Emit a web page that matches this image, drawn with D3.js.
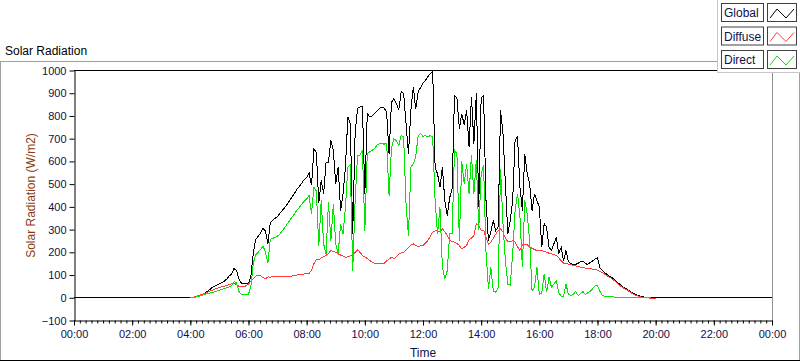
<!DOCTYPE html>
<html>
<head>
<meta charset="utf-8">
<script src="https://cdn.jsdelivr.net/npm/d3@7/dist/d3.min.js"></script>
<style>
  body { margin: 0; background: #fff; }
  svg { display: block; font-family: "Liberation Sans", Arial, sans-serif; }
</style>
</head>
<body>
<div id="chart"></div>
<script>
// Sample times: 00:00, then every 5 minutes from 04:00 to 20:00, then 24:00
const SAMPLE_MINUTES = [0].concat(d3.range(240, 1201, 5), [1440]);

// W/m2 (first = 00:00, last = 24:00, middle = 04:00..20:00 by 5 min)
const globalRad = [0,
  0, 2, 5, 8, 12, 16, 20, 28, 36, 45, 51, 56,
  62, 67, 73, 82, 95, 105, 128, 122, 85, 65, 62, 62,
  63, 95, 200, 258, 270, 285, 305, 295, 235, 330, 342, 350,
  358, 372, 385, 397, 412, 428, 445, 460, 477, 490, 505, 520,
  530, 550, 495, 655, 640, 415, 517, 458, 597, 597, 693, 649,
  502, 575, 384, 458, 575, 796, 767, 281, 722, 833, 840, 840,
  458, 810, 796, 800, 810, 822, 833, 838, 835, 815, 634, 860,
  876, 855, 825, 906, 900, 766, 634, 825, 928, 830, 906, 925,
  945, 957, 972, 987, 995, 575, 545, 486, 575, 428, 362, 440,
  480, 891, 880, 745, 810, 760, 825, 664, 884, 678, 899, 399,
  880, 891, 428, 252, 290, 340, 296, 311, 825, 722, 502, 281,
  340, 428, 693, 708, 487, 384, 634, 546, 502, 384, 458, 428,
  399, 222, 325, 311, 222, 208, 237, 266, 193, 222, 160, 208,
  160, 150, 147, 147, 152, 158, 162, 150, 147, 155, 162, 170,
  177, 132, 120, 110, 102, 95, 88, 80, 70, 61, 52, 45,
  39, 32, 24, 18, 13, 9, 6, 4, 2, 1, 0, 0,
  0,
  0];

const diffuseRad = [null,
  0, 2, 5, 8, 12, 15, 19, 24, 29, 33, 37, 42,
  45, 48, 51, 55, 58, 62, 65, 58, 51, 51, 51, 52,
  60, 73, 85, 95, 98, 97, 88, 84, 92, 90, 93, 94,
  93, 92, 92, 92, 93, 94, 96, 98, 100, 101, 103, 105,
  106, 107, 120, 150, 168, 166, 175, 180, 186, 195, 208, 203,
  200, 193, 188, 183, 178, 180, 184, 190, 200, 211, 200, 186,
  180, 172, 164, 158, 152, 149, 149, 150, 152, 162, 170, 178,
  172, 180, 192, 197, 200, 210, 222, 232, 237, 230, 226, 228,
  230, 240, 252, 270, 289, 294, 296, 289, 303, 290, 275, 252,
  248, 244, 238, 230, 215, 222, 230, 255, 262, 274, 325, 318,
  296, 298, 265, 236, 245, 262, 280, 295, 303, 289, 262, 248,
  246, 252, 245, 225, 208, 232, 236, 234, 222, 218, 212, 208,
  208, 207, 204, 200, 196, 193, 190, 186, 175, 164, 152, 150,
  148, 145, 143, 140, 138, 135, 133, 131, 130, 128, 126, 124,
  122, 115, 110, 104, 97, 90, 83, 75, 65, 56, 48, 41,
  35, 28, 21, 15, 10, 6, 3, 1, 0, -1, -2, -3,
  -4,
  null];

const directRad = [null,
  0, 1, 3, 5, 8, 12, 15, 18, 21, 24, 26, 30,
  33, 36, 40, 44, 48, 52, 70, 68, 28, 15, 15, 15,
  16, 51, 154, 190, 200, 213, 228, 200, 154, 257, 262, 265,
  272, 281, 295, 310, 325, 340, 355, 370, 385, 398, 412, 425,
  435, 450, 369, 486, 470, 226, 430, 237, 193, 420, 251, 413,
  237, 193, 325, 281, 398, 575, 583, 119, 428, 627, 627, 649,
  296, 634, 642, 649, 657, 672, 678, 678, 676, 680, 450, 660,
  700, 690, 670, 714, 707, 413, 272, 575, 590, 620, 714, 722,
  710, 714, 707, 714, 707, 428, 281, 398, 134, 82, 119, 281,
  281, 649, 634, 252, 600, 502, 590, 458, 627, 458, 605, 300,
  546, 583, 200, 40, 133, 30, 25, 45, 566, 325, 163, 60,
  56, 193, 384, 458, 355, 134, 428, 369, 252, 30, 46, 134,
  15, 20, 105, 25, 90, 46, 60, 75, 22, 7, 7, 60,
  15, 10, 15, 28, 10, 18, 28, 15, 22, 29, 40, 52,
  52, 28, 10, 7, 5, 4, 4, 3, 3, 2, 2, 2,
  2, 1, 1, 1, 0, 0, 0, 0, 0, 0, 0, null,
  null,
  null];

const SERIES = [
  { name: "Global", values: globalRad, color: "#000000" },
  { name: "Diffuse", values: diffuseRad, color: "#ff3c3c" },
  { name: "Direct", values: directRad, color: "#00e600" },
];

const Y_TICKS = d3.range(-100, 1001, 100);
const X_MAJOR = d3.range(0, 1441, 120);
const X_MINOR = d3.range(0, 1441, 12);

const WIDTH = 800;
const HEIGHT = 361;
const PLOT = { left: 74, right: 772, top: 70.5, bottom: 320.5 };
const TEXT_COLOR = "#10104a";

const svg = d3.select("#chart").append("svg")
  .attr("width", WIDTH)
  .attr("height", HEIGHT);

// outer frame of the graph panel
svg.append("rect")
  .attr("x", 0.5).attr("y", 61.5)
  .attr("width", WIDTH - 1).attr("height", HEIGHT - 62)
  .attr("fill", "#fff")
  .attr("stroke", "#a0a0a0");
svg.append("line")
  .attr("x1", 0).attr("x2", WIDTH)
  .attr("y1", HEIGHT - 0.5).attr("y2", HEIGHT - 0.5)
  .attr("stroke", "#000");

svg.append("text")
  .attr("x", 5).attr("y", 55)
  .attr("font-size", 12)
  .attr("fill", "#000")
  .text("Solar Radiation");

const x = d3.scaleLinear().domain([0, 1440]).range([PLOT.left, PLOT.right]);
const y = d3.scaleLinear().domain([-100, 1000]).range([PLOT.bottom, PLOT.top]);

// plot area border (top black, right grey)
svg.append("line")
  .attr("x1", PLOT.left).attr("x2", PLOT.right)
  .attr("y1", PLOT.top).attr("y2", PLOT.top)
  .attr("stroke", "#000");
svg.append("line")
  .attr("x1", PLOT.right + 0.5).attr("x2", PLOT.right + 0.5)
  .attr("y1", PLOT.top).attr("y2", PLOT.bottom)
  .attr("stroke", "#909090");

// y axis
const yAxis = svg.append("g")
  .attr("transform", `translate(${PLOT.left + 0.5},0)`)
  .call(d3.axisLeft(y).tickValues(Y_TICKS).tickFormat(d3.format("d"))
    .tickSize(5).tickPadding(3).tickSizeOuter(0));
yAxis.select(".domain").attr("stroke", "#000");
yAxis.selectAll("text").attr("font-size", 11).attr("fill", TEXT_COLOR)
  .attr("font-family", "'Liberation Sans', Arial, sans-serif");

// x axis, minor ticks then major ticks with labels
svg.append("g")
  .attr("transform", `translate(0,${PLOT.bottom})`)
  .call(d3.axisBottom(x).tickValues(X_MINOR).tickSize(3).tickFormat(""))
  .call((g) => g.select(".domain").remove());
const xAxis = svg.append("g")
  .attr("transform", `translate(0,${PLOT.bottom})`)
  .call(d3.axisBottom(x).tickValues(X_MAJOR).tickSize(5).tickPadding(5).tickSizeOuter(0)
    .tickFormat((m) => String(Math.floor(m / 60) % 24).padStart(2, "0") + ":00"));
xAxis.select(".domain").attr("stroke", "#000");
xAxis.selectAll("text").attr("font-size", 11).attr("fill", TEXT_COLOR)
  .attr("font-family", "'Liberation Sans', Arial, sans-serif");

svg.append("text")
  .attr("x", (PLOT.left + PLOT.right) / 2).attr("y", 357)
  .attr("text-anchor", "middle")
  .attr("font-size", 12)
  .attr("fill", TEXT_COLOR)
  .text("Time");

svg.append("text")
  .attr("transform", `translate(35,${(PLOT.top + PLOT.bottom) / 2}) rotate(-90)`)
  .attr("text-anchor", "middle")
  .attr("font-size", 12)
  .attr("fill", "#8a3c0c")
  .text("Solar Radiation (W/m2)");

// data lines
const lineGen = d3.line()
  .defined((d) => d.v !== null)
  .x((d) => x(d.t))
  .y((d) => y(d.v));

svg.append("g")
  .selectAll("path")
  .data(SERIES)
  .join("path")
  .attr("d", (s) => lineGen(SAMPLE_MINUTES.map((t, i) => ({ t, v: s.values[i] }))))
  .attr("fill", "none")
  .attr("stroke", (s) => s.color)
  .attr("stroke-width", 1)
  .attr("shape-rendering", "crispEdges");

// legend
const legend = svg.append("g");
legend.append("rect")
  .attr("x", 717.5).attr("y", -1)
  .attr("width", 84).attr("height", 73.5)
  .attr("fill", "#fff")
  .attr("stroke", "#c8c8c8");

const rows = legend.selectAll("g.item")
  .data(SERIES)
  .join("g")
  .attr("class", "item")
  .attr("transform", (d, i) => `translate(0,${3 + i * 23.5})`);

rows.append("rect")
  .attr("x", 721.5).attr("y", 0.5)
  .attr("width", 42).attr("height", 18)
  .attr("fill", "#fff")
  .attr("stroke", "#404040");
rows.append("text")
  .attr("x", 724).attr("y", 14)
  .attr("font-size", 12)
  .attr("fill", TEXT_COLOR)
  .text((d) => d.name);
rows.append("rect")
  .attr("x", 767.5).attr("y", 0.5)
  .attr("width", 29).attr("height", 18)
  .attr("fill", "#fff")
  .attr("stroke", "#404040");
rows.append("path")
  .attr("d", "M770,15 L777,6 L786,15 L794,6")
  .attr("fill", "none")
  .attr("stroke", (d) => d.color);
</script>
</body>
</html>
